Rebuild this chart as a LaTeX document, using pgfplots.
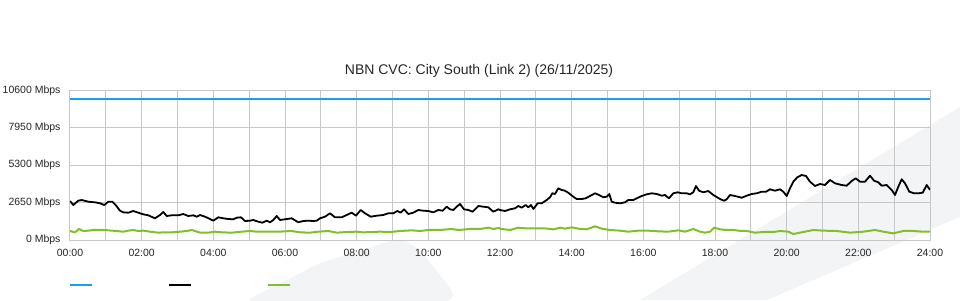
\documentclass[border=0pt]{standalone}
\usepackage{pgfplots}
\usepackage{pgfplotstable}
\pgfplotsset{compat=1.18}
\usepackage{fontspec}
\setmainfont{Liberation Sans}
\definecolor{capblue}{RGB}{28,160,226}
\definecolor{ingreen}{RGB}{128,192,40}
\definecolor{gridgray}{RGB}{200,200,200}
\definecolor{wm}{RGB}{243,244,246}

% x in source pixels (70 = 00:00, 930 = 24:00), y in Mbps
\pgfplotstableread{
px y
70 2763
73.3 2480
78.3 2785
81.7 2834
88.3 2714
95 2670
100 2600
104.3 2480
108.3 2714
112.3 2714
115.7 2480
120 2076
123.3 1960
128.3 1935
133.3 2055
138.3 1935
143.3 1820
148.3 1750
155 1537
160 1771
163.3 1984
166.7 1700
171.7 1750
178.3 1750
183.3 1842
188.3 1700
193.3 1750
196.7 1651
200 1771
205 1651
210 1488
213.3 1368
218.3 1608
223.3 1537
228.3 1488
233.3 1467
236.7 1580
241 1608
245 1346
250 1368
253.3 1417
258.3 1297
262.3 1226
266.7 1368
270 1254
273.3 1417
276.7 1700
280 1417
285 1467
291.7 1537
298.3 1254
303.3 1346
308.3 1368
313.3 1346
316.7 1368
320 1537
325 1651
330 1892
335 1608
341.7 1608
346.7 1771
351.7 1935
356 1722
360.7 2126
365 1892
370.7 1651
376.7 1722
383.3 1771
388.3 1892
393.3 1892
397.3 2055
400.7 1935
404 2175
408.3 1842
413.3 1935
418.3 2126
423.3 2076
428.3 2055
433.3 1960
438.3 2126
442.7 2076
446.7 2360
450 2175
453.3 2126
456.7 2360
460 2551
464 2175
468.3 2126
472.7 2005
478.3 2409
483.3 2360
488.3 2317
493.3 2005
498.3 2175
500 2126
505 2055
510 2175
515 2246
518.3 2409
521.7 2289
525.7 2480
528.3 2317
531 2480
533.3 2197
537.7 2600
541.7 2600
546.7 2834
550 3026
552.3 3309
555 3260
558.3 3663
561.7 3543
565 3493
569 3309
573.3 3068
576.7 2905
581.7 2905
585.7 2955
590 3118
595 3309
599 3189
603.3 3026
606.7 3068
609.3 3260
611.7 2714
615 2643
620 2600
625 2670
628.3 2834
633.3 2834
636.7 2955
641.7 3118
646.7 3238
651.7 3309
656.7 3260
661.7 3139
665 3189
669 2955
673.3 3309
677.7 3380
681.7 3309
686.7 3309
690 3238
693.3 3380
696 3826
699 3493
703.3 3380
708.3 3472
713.3 3189
715 3118
720 2905
724 2785
726.7 2884
730 3189
735 3118
741.7 2997
746.7 3139
751.7 3260
756.7 3309
761.7 3422
766 3422
770 3593
775 3493
780 3593
783.3 3422
786.7 3118
790 3663
793.3 4131
797.3 4443
801.7 4606
806 4535
810 4131
815 3826
820 3968
825 3897
830 4252
835 4016
841.7 3897
846.7 3848
851.7 4181
855.7 4372
860 4131
865 4131
870 4556
874 4202
878.3 4089
881.7 3848
886.7 3897
891.7 3543
895 3189
898.3 3777
901.7 4301
905 4016
909.3 3422
914 3309
918.3 3309
922.7 3352
926.7 3897
930 3543
}\outtable

\pgfplotstableread{
px y
70 638
75 543
79 780
83.3 638
88.3 662
93.3 709
105 709
111.7 662
116.7 638
123.3 590
128.3 662
133.3 709
138.3 638
143.3 662
150 590
158.3 520
163.3 543
171.7 543
180 590
186.7 638
191.7 709
195 638
200 520
208.3 520
215 590
221.7 543
231.7 520
241.7 590
250 638
256.7 590
268.3 590
278.3 590
291.7 638
300 543
310 520
318.3 590
328.3 638
336.7 520
346.7 567
356.7 590
363.3 543
373.3 567
380 590
390 567
400 638
411.7 685
420 638
428.3 709
440 709
451.7 780
458.3 709
470 780
480 780
488.3 874
493.3 780
498.3 850
501.7 780
510 709
518.3 874
525 827
535 827
545 827
553.3 756
560 874
565 803
571.7 898
578.3 803
586.7 756
595 969
601.7 803
610 709
620 662
628.3 590
638.3 662
648.3 662
658.3 614
668.3 590
678.3 685
685 590
693.3 780
700 590
705 520
710 590
714 874
720 756
726.7 709
733.3 709
741.7 638
746.7 638
755 520
763.3 567
773.3 567
780 638
788.3 590
793.3 425
800 520
813.3 709
823.3 662
836.7 638
850 520
863.3 590
875 709
883.3 590
893.3 472
903.3 638
913.3 638
923.3 590
930 590
}\intable

\pgfplotstableread{
px y
70 10000
930 10000
}\captable

\begin{document}
\begin{tikzpicture}[x=1pt,y=1pt]
\useasboundingbox (-70,-60) rectangle (890,240);
% faint background watermark
\fill[wm] (570,-60) -- (890,133) -- (890,23) -- (697,-60) -- cycle;
\fill[wm, rounded corners=8pt] (175,-61) -- (250,-23) -- (330,2) -- (348,-8) -- (382,-50) -- (384,-61) -- cycle;
\begin{axis}[
  at={(0,0)}, anchor=south west,
  scale only axis, width=860pt, height=149.6pt,
  xmin=0, xmax=24, ymin=0, ymax=10600,
  scaled y ticks=false,
  xtick={0,2,...,24},
  xticklabels={00:00,02:00,04:00,06:00,08:00,10:00,12:00,14:00,16:00,18:00,20:00,22:00,24:00},
  minor xtick={1,3,...,23},
  ytick={0,2650,5300,7950,10600},
  yticklabels={0 Mbps,2650 Mbps,5300 Mbps,7950 Mbps,10600 Mbps},
  xmajorgrids, xminorgrids, ymajorgrids,
  major grid style={draw=gridgray, line width=1pt},
  minor grid style={draw=gridgray, line width=1pt},
  axis line style={draw=gridgray, line width=1pt},
  major tick length=0pt, minor tick length=0pt,
  tick label style={font=\fontsize{10.5}{12}\selectfont, text=black!85},
  xticklabel style={yshift=-6pt},
  yticklabel style={xshift=-6pt},
  legend columns=3,
  legend style={draw=none, fill=none, at={(-0.0012,-0.30)}, anchor=west,
    inner sep=0pt, nodes={inner sep=0pt},
    /tikz/every even column/.append style={column sep=74pt}},
  legend image code/.code={\draw[#1] (0pt,0pt) -- (22pt,0pt);},
]
\addplot[capblue, line width=2pt] table[x expr={(\thisrow{px}-70)/35.8333}, y=y] {\captable};
\addlegendentry{\mbox{}}
\addplot[black, line width=1.8pt, line join=round] table[x expr={(\thisrow{px}-70)/35.8333}, y=y] {\outtable};
\addlegendentry{\mbox{}}
\addplot[ingreen, line width=2pt, line join=round] table[x expr={(\thisrow{px}-70)/35.8333}, y=y] {\intable};
\addlegendentry{\mbox{}}
\end{axis}
\node[font=\fontsize{14}{16}\selectfont, text=black!85] at (409,169) {NBN CVC: City South (Link 2) (26/11/2025)};
\end{tikzpicture}
\end{document}
